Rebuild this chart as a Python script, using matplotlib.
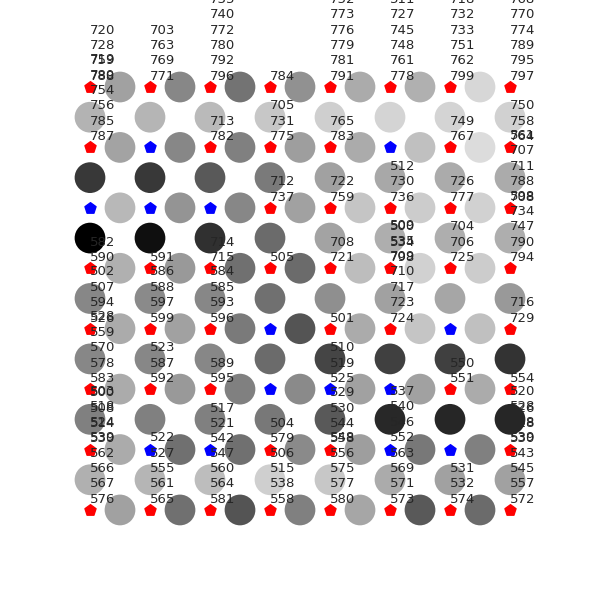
import matplotlib
matplotlib.use("Agg")
import matplotlib.pyplot as plt

# node classes on the 8x8 grid, row by row from the top
node_cls = [
    "rrrrrrrr",
    "rbrrrbrr",
    "bbbrrrrr",
    "rrrrrrrr",
    "rrrbrrbr",
    "rrrbbbrr",
    "rbbrrbbr",
    "rrrrrrrr",
]

# grey level of the circles between neighbouring nodes (0 = black, 1 = white)
h_grey = [  # between columns, one row per grid row
    [0.63, 0.53, 0.45, 0.57, 0.67, 0.69, 0.84],
    [0.64, 0.53, 0.50, 0.62, 0.67, 0.75, 0.86],
    [0.72, 0.58, 0.53, 0.63, 0.77, 0.80, 0.82],
    [0.69, 0.60, 0.44, 0.42, 0.74, 0.82, 0.80],
    [0.67, 0.63, 0.48, 0.33, 0.67, 0.77, 0.75],
    [0.67, 0.60, 0.50, 0.54, 0.63, 0.63, 0.67],
    [0.67, 0.44, 0.44, 0.54, 0.62, 0.47, 0.50],
    [0.63, 0.44, 0.33, 0.50, 0.65, 0.35, 0.42],
]
v_grey = [  # between rows, one row per gap
    [0.70, 0.71, 0.73, 0.78, 0.81, 0.83, 0.83, 0.82],
    [0.22, 0.22, 0.35, 0.48, 0.63, 0.66, 0.67, 0.67],
    [0.00, 0.06, 0.19, 0.42, 0.64, 0.68, 0.68, 0.68],
    [0.53, 0.54, 0.53, 0.44, 0.56, 0.63, 0.65, 0.60],
    [0.53, 0.53, 0.53, 0.42, 0.27, 0.25, 0.25, 0.20],
    [0.50, 0.50, 0.50, 0.47, 0.35, 0.16, 0.15, 0.15],
    [0.69, 0.71, 0.74, 0.81, 0.78, 0.67, 0.63, 0.63],
]

# sample labels per node (column, row)
labels = {
    (0, 0): [720, 728, 759, 788],
    (0, 1): [719, 780, 754, 756, 785, 787],
    (0, 3): [582, 590],
    (0, 4): [502, 507, 594, 526],
    (0, 5): [528, 559, 570, 578, 583],
    (0, 6): [500, 508, 514, 530],
    (0, 7): [503, 518, 524, 539, 562, 566, 567, 576],
    (1, 0): [703, 763, 769, 771],
    (1, 3): [591],
    (1, 4): [586, 588, 597, 599],
    (1, 5): [523, 587, 592],
    (1, 7): [522, 527, 555, 561, 565],
    (2, 0): [735, 740, 772, 780, 792, 796],
    (2, 1): [713, 782],
    (2, 3): [714, 715],
    (2, 4): [584, 585, 593, 596],
    (2, 5): [589, 595],
    (2, 6): [517, 521, 542],
    (2, 7): [547, 560, 564, 581],
    (3, 0): [784],
    (3, 1): [705, 731, 775],
    (3, 2): [712, 737],
    (3, 3): [505],
    (3, 6): [504, 579],
    (3, 7): [506, 515, 538, 558],
    (4, 0): [752, 773, 776, 779, 781, 791],
    (4, 1): [765, 783],
    (4, 2): [722, 759],
    (4, 3): [708, 721],
    (4, 4): [501],
    (4, 5): [510, 519, 525],
    (4, 6): [529, 530, 544, 558],
    (4, 7): [548, 556, 575, 577, 580],
    (5, 0): [511, 727, 745, 748, 761, 778],
    (5, 2): [512, 730, 736],
    (5, 3): [500, 534, 798],
    (5, 4): [509, 535, 709, 710, 717, 723, 724],
    (5, 7): [537, 540, 546, 552, 563, 569, 571, 573],
    (6, 0): [718, 732, 733, 751, 762, 799],
    (6, 1): [749, 767],
    (6, 2): [726, 777],
    (6, 3): [704, 706, 725],
    (6, 5): [550, 551],
    (6, 7): [531, 532, 574],
    (7, 0): [768, 770, 774, 789, 795, 797],
    (7, 1): [750, 758, 764],
    (7, 2): [561, 707, 711, 788, 708],
    (7, 3): [598, 734, 747, 790, 794],
    (7, 4): [716, 729],
    (7, 5): [554],
    (7, 6): [526, 518, 530],
    (7, 7): [520, 528, 538, 539, 543, 545, 557, 572],
}

fig = plt.figure(figsize=(6, 6), dpi=100)
ax = fig.add_axes([0, 0, 1, 1])

# circles between nodes
cx, cy, cg = [], [], []
for j, row in enumerate(h_grey):
    for i, g in enumerate(row):
        cx.append(i + 0.5); cy.append(j); cg.append(g)
for j, row in enumerate(v_grey):
    for i, g in enumerate(row):
        cx.append(i); cy.append(j + 0.5); cg.append(g)
ax.scatter(cx, cy, c=cg, cmap="gray", vmin=0, vmax=1, s=490,
           edgecolors="none", zorder=1)

# nodes
cmap = {"r": "red", "b": "blue"}
for j, row in enumerate(node_cls):
    for i, k in enumerate(row):
        ax.scatter(i, j, marker="p", color=cmap[k], s=70, zorder=2)

for (i, j), lab in labels.items():
    ax.annotate("\n".join(str(v) for v in lab), (i, j), xytext=(0, 3),
                textcoords="offset points", ha="left", va="bottom",
                fontsize=9.5, linespacing=1.24, color="#262626", zorder=3)

ax.set_xlim(-1.5, 8.5)
ax.set_ylim(8.49, -1.44)
ax.axis("off")

fig.savefig("out.png", dpi=100)
